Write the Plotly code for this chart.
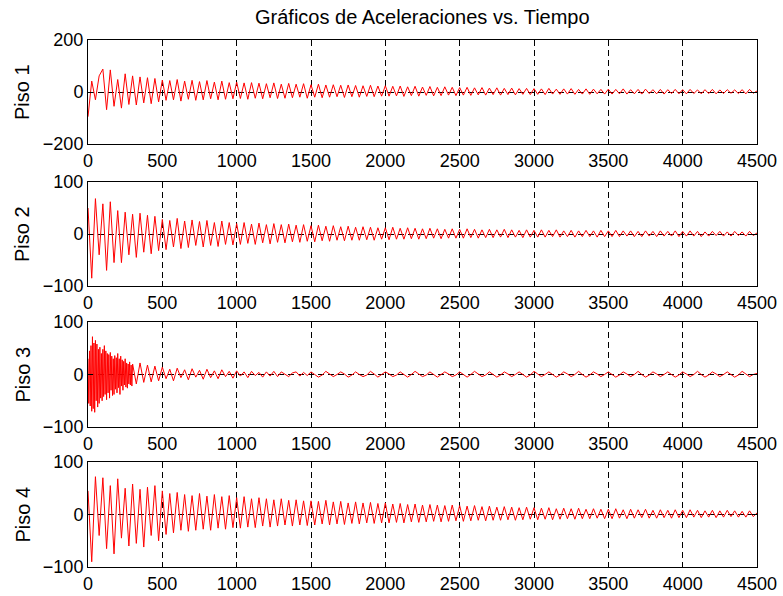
import plotly.graph_objects as go

# Sampling times (every 25 time units) and a denser early segment for Piso 3
T = list(range(0, 4501, 25))
T3_EARLY = list(range(0, 300, 5))
T3_LATE = list(range(300, 4501, 25))

PISO1 = [
    -95, 42, -30, 62, 88, -68, 85, -55, 48, -62, 70, -48, 62, -50, 58, -42, 55, -45, 52, -38,
    46, -32, 44, -30, 48, -35, 42, -28, 45, -32, 40, -30, 44, -26, 38, -30, 42, -28, 36, -26,
    38, -25, 35, -28, 36, -24, 34, -26, 32, -22, 35, -25, 30, -24, 33, -22, 30, -20, 32, -24,
    28, -20, 30, -22, 27, -20, 28, -18, 26, -21, 27, -18, 25, -20, 24, -17, 26, -18, 23, -16,
    24, -16, 22, -15, 23, -17, 20, -14, 22, -16, 19, -13, 21, -15, 18, -14, 20, -12, 18, -14,
    17, -12, 18, -13, 16, -11, 17, -12, 15, -10, 16, -12, 14, -10, 15, -11, 13, -9, 14, -10,
    13, -9, 12, -10, 14, -8, 11, -9, 12, -8, 13, -9, 10, -8, 12, -9, 11, -7, 10, -8,
    11, -8, 10, -7, 12, -8, 9, -7, 10, -8, 11, -6, 9, -7, 10, -8, 9, -6, 10, -7,
    9, -7, 10, -6, 8, -7, 9, -6, 10, -7, 8, -6, 9, -5, 8, -6, 9, -7, 10, -5,
    4,
]

PISO2 = [
    50, -85, 68, -40, 58, -70, 62, -55, 45, -55, 42, -40, 38, -45, 40, -35, 36, -38, 34, -32,
    28, -30, 26, -25, 30, -28, 25, -26, 27, -22, 24, -25, 26, -22, 22, -24, 25, -20, 22, -21,
    20, -20, 22, -18, 19, -20, 21, -17, 18, -19, 20, -16, 18, -17, 19, -15, 17, -16, 18, -14,
    16, -15, 17, -13, 15, -14, 16, -12, 14, -13, 15, -12, 13, -12, 14, -11, 13, -12, 12, -10,
    12, -11, 13, -10, 11, -10, 12, -9, 11, -10, 10, -9, 11, -8, 10, -9, 9, -8, 10, -8,
    9, -8, 10, -7, 9, -8, 8, -7, 9, -7, 8, -6, 9, -7, 8, -6, 7, -7, 8, -6,
    7, -6, 8, -6, 7, -5, 8, -6, 6, -5, 7, -6, 6, -5, 7, -5, 6, -6, 7, -5,
    6, -5, 7, -5, 6, -4, 6, -5, 5, -5, 6, -4, 5, -5, 6, -4, 5, -4, 6, -5,
    5, -4, 6, -4, 5, -5, 4, -4, 5, -3, 5, -4, 4, -4, 5, -3, 4, -4, 5, -3,
    2,
]

PISO3_EARLY = [
    30, -55, 45, -60, 55, -70, 72, -65, 60, -72, 65, -50, 58, -62, 48, -55, 52, -45, 40, -50,
    48, -42, 55, -38, 45, -48, 40, -35, 38, -45, 42, -30, 35, -40, 30, -38, 36, -28, 32, -35,
    40, -25, 30, -38, 35, -22, 28, -30, 25, -20, 30, -24, 22, -26, 20, -18, 24, -20, 18, -22,
]

PISO3_LATE = [
    20, -18, 22, -15, 18, -14, 16, -12,
    14, -8, 10, -12, 12, -6, 9, -10, 11, -5, 8, -9, 10, -6, 7, -8, 9, -4, 6, -7,
    7, -3, 5, -6, 6, -2, 4, -5, 5, -3, 6, -4, 5, 0, -4, 3, 5, -3, 4, -2,
    5, 0, -5, -1, 6, 1, -4, 0, 5, 1, -5, -1, 5, 0, -4, -1, 6, 1, -5, 0,
    5, 1, -4, -1, 5, 0, -5, 0, 6, 1, -4, -1, 5, 0, -5, 0, 5, 1, -4, -1,
    5, 0, -5, 0, 6, 1, -4, -1, 5, 0, -5, -1, 5, 1, -4, 0, 5, 0, -5, -1,
    6, 1, -4, 0, 5, 0, -5, -1, 5, 1, -4, 0, 6, 0, -5, -1, 5, 1, -4, 0,
    5, 0, -5, -1, 5, 1, -4, 0, 6, 0, -5, -1, 5, 1, -4, 0, 5, 0, -5, -1,
    5, 1, -4, 0, 6, 0, -5, -1, 5, 1, -4, 0, 5, 0, -5, -1, 6, 1, -4, 0,
    2,
]

PISO4 = [
    45, -90, 72, -40, 70, -65, 55, -75, 68, -45, 50, -60, 58, -55, 48, -62, 52, -40, 55, -50,
    45, -38, 40, -35, 42, -30, 38, -32, 36, -30, 40, -28, 35, -30, 38, -26, 34, -28, 36, -25,
    32, -26, 34, -24, 30, -25, 32, -22, 30, -24, 28, -22, 30, -20, 27, -22, 28, -20, 26, -21,
    26, -20, 25, -18, 27, -20, 24, -18, 25, -19, 22, -17, 24, -18, 22, -16, 23, -17, 21, -16,
    22, -16, 20, -15, 21, -16, 19, -14, 20, -15, 18, -14, 19, -13, 18, -14, 17, -13, 18, -12,
    17, -13, 16, -12, 17, -11, 15, -12, 16, -11, 14, -11, 15, -10, 14, -11, 13, -10, 14, -9,
    13, -10, 12, -9, 13, -10, 11, -9, 12, -8, 11, -9, 12, -8, 10, -8, 11, -7, 10, -8,
    10, -8, 11, -7, 9, -8, 10, -7, 9, -6, 10, -7, 8, -7, 9, -6, 8, -7, 9, -6,
    8, -6, 9, -5, 8, -6, 7, -5, 8, -6, 7, -5, 8, -4, 7, -5, 6, -5, 7, -4,
    3,
]

LABELS = ["Piso 1", "Piso 2", "Piso 3", "Piso 4"]
YRANGES = [[-200, 200], [-100, 100], [-100, 100], [-100, 100]]
YTICKS = [[-200, 0, 200], [-100, 0, 100], [-100, 0, 100], [-100, 0, 100]]
XTICKS = [0, 500, 1000, 1500, 2000, 2500, 3000, 3500, 4000, 4500]
TITLE = "Gráficos de Aceleraciones vs. Tiempo"

W, H = 783, 596
X0, X1 = 88, 757
PANELS = [(40, 144), (182, 286), (322, 427), (462, 567)]
FONT = "Liberation Sans, Arial, sans-serif"
FS = 18
FS_LABEL = 20

series = [
    (T, PISO1),
    (T, PISO2),
    (T3_EARLY + T3_LATE, PISO3_EARLY + PISO3_LATE),
    (T, PISO4),
]

fig = go.Figure()
layout = dict(
    template="none",
    width=W, height=H, autosize=False,
    margin=dict(l=0, r=0, t=0, b=0, pad=0, autoexpand=False),
    paper_bgcolor="white", plot_bgcolor="white",
    showlegend=False,
    font=dict(family=FONT, size=FS, color="black"),
)
annotations = []
for i, (xs, ys) in enumerate(series):
    n = i + 1
    xa = "x" if n == 1 else f"x{n}"
    ya = "y" if n == 1 else f"y{n}"
    fig.add_trace(go.Scatter(x=xs, y=ys, mode="lines",
                             line=dict(color="#ff0000", width=1),
                             xaxis=xa, yaxis=ya, hoverinfo="skip"))
    top, bot = PANELS[i]
    common = dict(showline=True, linecolor="black", linewidth=1, mirror="ticks",
                  ticks="inside", ticklen=5, tickcolor="black", automargin=False,
                  showgrid=True, gridcolor="black", gridwidth=1, griddash="6px,4px",
                  zeroline=False, tickfont=dict(family=FONT, size=FS, color="black"))
    layout["xaxis" if n == 1 else f"xaxis{n}"] = dict(
        domain=[X0 / W, X1 / W], range=[0, 4500], tickvals=XTICKS,
        anchor=ya, **common)
    layout["yaxis" if n == 1 else f"yaxis{n}"] = dict(
        domain=[1 - bot / H, 1 - top / H], range=YRANGES[i], tickvals=YTICKS[i],
        anchor=xa, **common)
    annotations.append(dict(text=LABELS[i], xref="paper", yref="paper",
                            x=22 / W, y=1 - (top + bot) / 2 / H, textangle=-90,
                            showarrow=False, xanchor="center", yanchor="middle",
                            font=dict(family=FONT, size=FS_LABEL, color="black")))

annotations.append(dict(text=TITLE, xref="paper", yref="paper",
                        x=(X0 + X1) / 2 / W, y=1 - 17 / H, showarrow=False,
                        xanchor="center", yanchor="middle",
                        font=dict(family=FONT, size=FS_LABEL, color="black")))
layout["annotations"] = annotations
fig.update_layout(**layout)
fig.write_html("out.html")
